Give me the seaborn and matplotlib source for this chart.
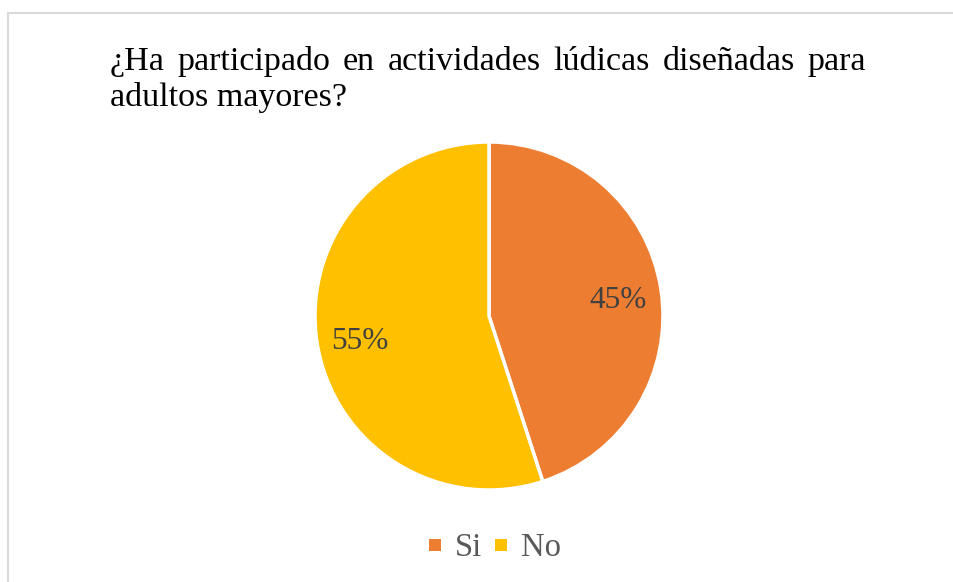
import matplotlib
matplotlib.use("Agg")
import matplotlib.pyplot as plt
import seaborn as sns
from matplotlib.lines import Line2D

categories = ["Si", "No"]
values = [45, 55]
colors = ["#ED7D31", "#FFC000"]
title_line1 = ["¿Ha", "participado", "en", "actividades", "lúdicas", "diseñadas", "para"]
title_line2 = "adultos mayores?"

sns.set_theme(style="white")
plt.rcParams['font.family'] = ['Liberation Serif', 'DejaVu Serif']

W, H = 954, 582
fig = plt.figure(figsize=(W / 100, H / 100), dpi=100)
fig.patch.set_facecolor("white")

# border (chart area frame, clipped by image at right/bottom)
fig.add_artist(Line2D([8 / W, 1.2], [1 - 13 / H, 1 - 13 / H], transform=fig.transFigure,
                      color="#D9D9D9", linewidth=1.5))
fig.add_artist(Line2D([8 / W, 8 / W], [-0.2, 1 - 13 / H], transform=fig.transFigure,
                      color="#D9D9D9", linewidth=1.5))

# pie
cx, cy, r = 489, 316, 174
ax = fig.add_axes([(cx - r) / W, 1 - (cy + r) / H, 2 * r / W, 2 * r / H])
wedges, texts, autotexts = ax.pie(values, colors=colors, startangle=90, counterclock=False,
                                  autopct=lambda p: f"{p:.0f}%", pctdistance=0.75,
                                  wedgeprops=dict(edgecolor="white", linewidth=2.5),
                                  textprops=dict(fontsize=22.5, color="#404040"))
for t in autotexts:
    px, py = t.get_position()
    t.set_position((px, py - 0.03))
ax.set_xlim(-1, 1)
ax.set_ylim(-1, 1)
ax.set_aspect("equal")
ax.axis("off")

# justified title
fs = 24.5
x0, x1 = 110, 866
base1, base2 = 70, 106
renderer = fig.canvas.get_renderer()
objs = []
for w in title_line1:
    t = fig.text(0, 1 - base1 / H, w, fontsize=fs, color="black", va="baseline", ha="left")
    objs.append(t)
widths = [t.get_window_extent(renderer).width for t in objs]
gap = (x1 - x0 - sum(widths)) / (len(objs) - 1)
x = x0
for t, wd in zip(objs, widths):
    t.set_x(x / W)
    x += wd + gap
fig.text(x0 / W, 1 - base2 / H, title_line2, fontsize=fs, color="black", va="baseline", ha="left")

# legend
handles = [Line2D([], [], marker="s", linestyle="none", markersize=8.5, color=c, markeredgewidth=0)
           for c in colors]
fig.legend(handles, categories, loc="center", bbox_to_anchor=(494 / W, 1 - 548 / H), ncol=2,
           frameon=False, fontsize=23.5, handlelength=0.5, handletextpad=0.35, columnspacing=0.35,
           labelcolor="#595959")

fig.savefig("out.png", dpi=100, facecolor="white")
